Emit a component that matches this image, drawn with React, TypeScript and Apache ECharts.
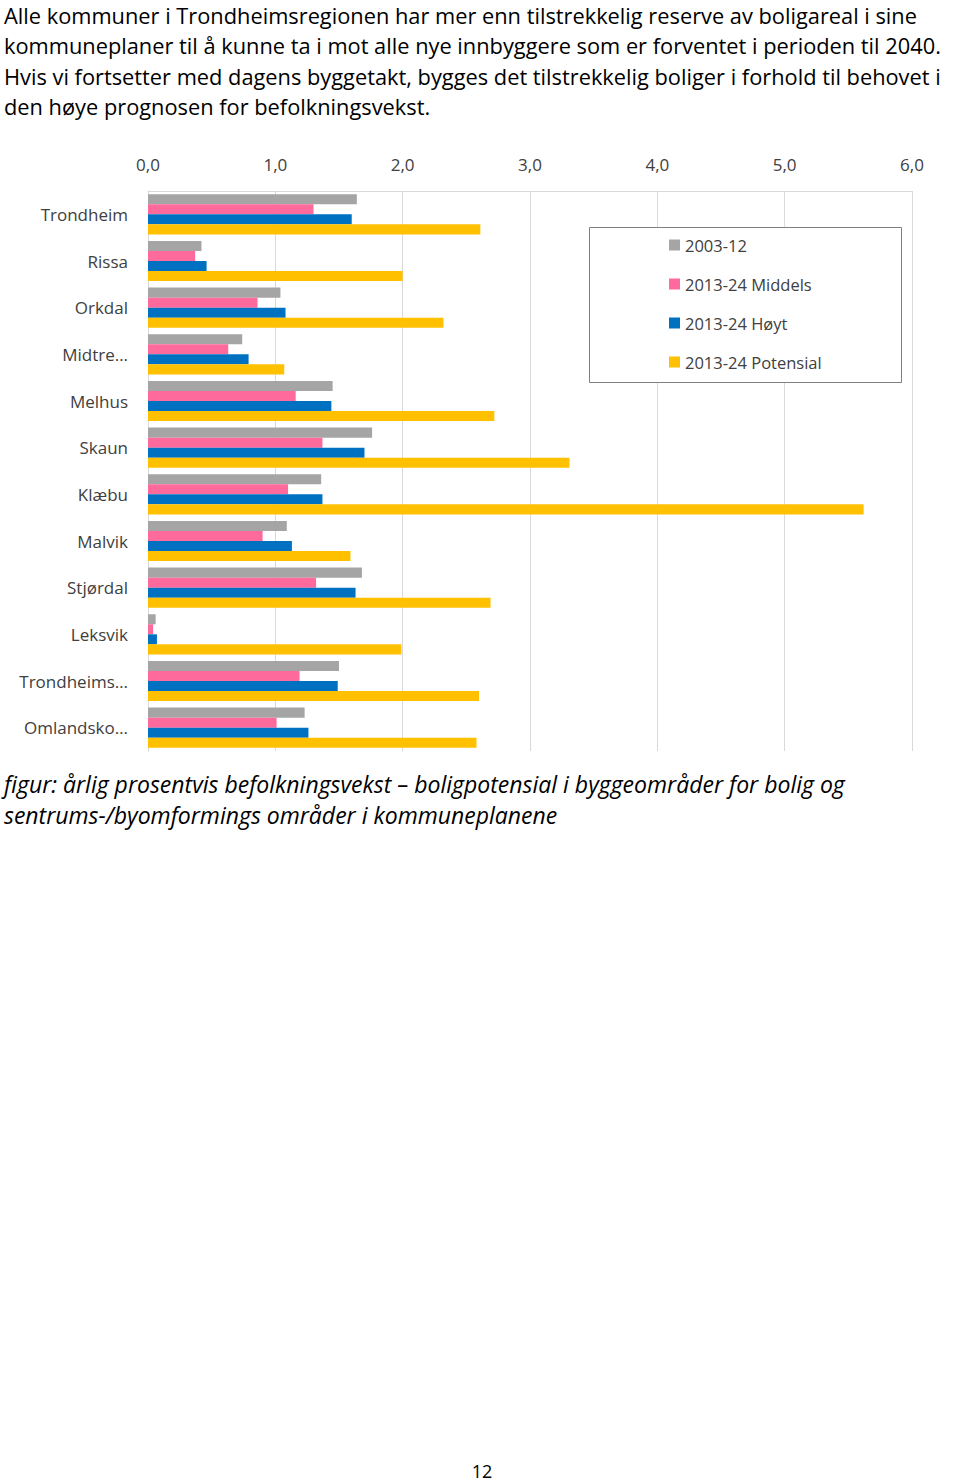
import React, { useEffect, useRef } from "react";
import * as echarts from "echarts";

const categories = [
  "Trondheim",
  "Rissa",
  "Orkdal",
  "Midtre…",
  "Melhus",
  "Skaun",
  "Klæbu",
  "Malvik",
  "Stjørdal",
  "Leksvik",
  "Trondheims…",
  "Omlandsko…",
];
const seriesNames = ["2003-12", "2013-24 Middels", "2013-24 Høyt", "2013-24 Potensial"];
const v2003 = [1.64, 0.42, 1.04, 0.74, 1.45, 1.76, 1.36, 1.09, 1.68, 0.06, 1.5, 1.23];
const vMiddels = [1.3, 0.37, 0.86, 0.63, 1.16, 1.37, 1.1, 0.9, 1.32, 0.04, 1.19, 1.01];
const vHoyt = [1.6, 0.46, 1.08, 0.79, 1.44, 1.7, 1.37, 1.13, 1.63, 0.07, 1.49, 1.26];
const vPotensial = [2.61, 2.0, 2.32, 1.07, 2.72, 3.31, 5.62, 1.59, 2.69, 1.99, 2.6, 2.58];
const xTicks = { min: 0, max: 6, interval: 1 };

const paragraph = [
  "Alle kommuner i Trondheimsregionen har mer enn tilstrekkelig reserve av boligareal i sine",
  "kommuneplaner til å kunne ta i mot alle nye innbyggere som er forventet i perioden til 2040.",
  "Hvis vi fortsetter med dagens byggetakt, bygges det tilstrekkelig boliger i forhold til behovet i",
  "den høye prognosen for befolkningsvekst.",
];
const caption = [
  "figur: årlig prosentvis befolkningsvekst – boligpotensial i byggeområder for bolig og",
  "sentrums-/byomformings områder i kommuneplanene",
];
const pageNumber = "12";

const FONT = '"Open Sans", sans-serif';
const colors = ["#A5A5A5", "#FF6A9D", "#0070C0", "#FFC000"];

export default function App() {
  const ref = useRef<HTMLDivElement>(null);
  useEffect(() => {
    if (!ref.current) return;
    const chart = echarts.init(ref.current, undefined, { renderer: "svg" });
    const values = [v2003, vMiddels, vHoyt, vPotensial];
    const textEls: any[] = [];
    paragraph.forEach((t, i) => {
      textEls.push({
        type: "text",
        x: 4,
        y: 15 + i * 30.5,
        style: {
          text: t,
          fontSize: 21.8,
          lineHeight: 22,
          fontFamily: FONT,
          fill: "#000",
          verticalAlign: "middle",
        },
      });
    });
    caption.forEach((t, i) => {
      textEls.push({
        type: "text",
        x: 4,
        y: 784 + i * 31,
        style: {
          text: t,
          fontSize: 23,
          lineHeight: 24,
          fontStyle: "italic",
          fontFamily: FONT,
          fill: "#000",
          verticalAlign: "middle",
        },
      });
    });
    textEls.push({
      type: "text",
      x: 482,
      y: 1471,
      style: {
        text: pageNumber,
        fontSize: 18,
        fontFamily: FONT,
        fill: "#000",
        align: "center",
        verticalAlign: "middle",
      },
    });
    textEls.push({
      type: "rect",
      shape: { x: 589.5, y: 227.5, width: 312, height: 155 },
      style: { fill: "#fff", stroke: "#808080", lineWidth: 1 },
      z: 5,
    });
    chart.setOption({
      animation: false,
      backgroundColor: "#fff",
      color: colors,
      textStyle: { fontFamily: FONT },
      grid: { left: 148, right: 48, top: 191, height: 560 },
      xAxis: {
        type: "value",
        position: "top",
        min: xTicks.min,
        max: xTicks.max,
        interval: xTicks.interval,
        axisLine: { show: true, lineStyle: { color: "#D9D9D9" } },
        axisTick: { show: false },
        splitLine: { show: true, lineStyle: { color: "#D9D9D9" } },
        axisLabel: {
          margin: 18,
          fontSize: 17,
          color: "#404040",
          fontFamily: FONT,
          formatter: (v: number) => v.toFixed(1).replace(".", ","),
        },
      },
      yAxis: {
        type: "category",
        data: categories,
        inverse: true,
        axisLine: { show: true, lineStyle: { color: "#D9D9D9" } },
        axisTick: { show: false },
        axisLabel: { margin: 20, fontSize: 17, color: "#404040", fontFamily: FONT },
      },
      legend: {
        orient: "vertical",
        left: 664,
        top: 230,
        itemWidth: 11,
        itemHeight: 11,
        itemGap: 19,
        icon: "rect",
        z: 10,
        textStyle: {
          fontSize: 16.5,
          color: "#404040",
          fontFamily: FONT,
          lineHeight: 20,
        },
        data: seriesNames,
      },
      series: seriesNames.map((name, i) => ({
        type: "bar",
        name,
        data: values[i],
        barGap: "0%",
        barCategoryGap: "14%",
        itemStyle: { color: colors[i] },
      })),
      graphic: textEls,
    });
    return () => chart.dispose();
  }, []);
  return (
    <div
      ref={ref}
      style={{ position: "absolute", left: 0, top: 0, width: 960, height: 1483 }}
    />
  );
}
